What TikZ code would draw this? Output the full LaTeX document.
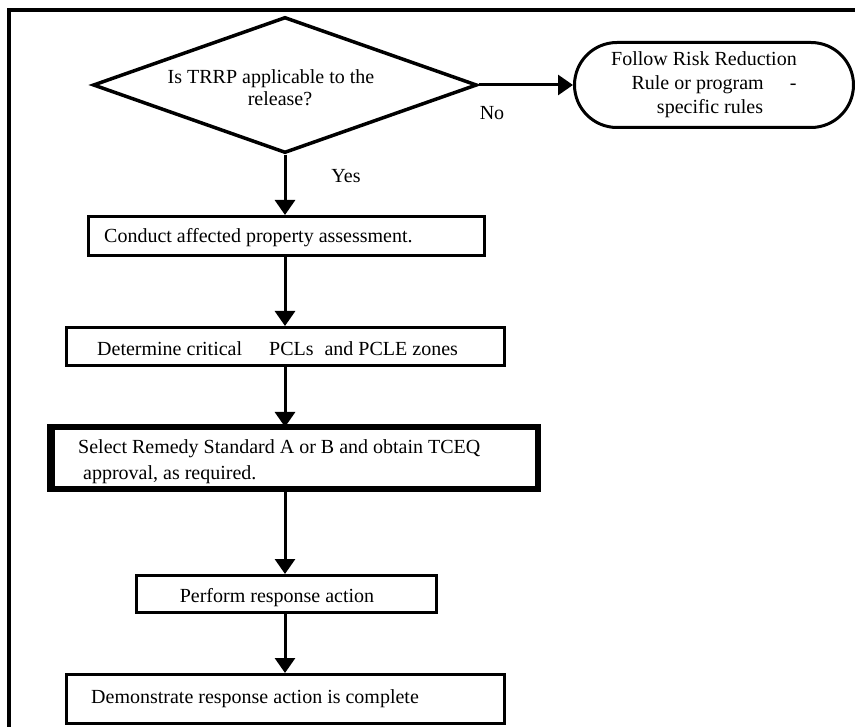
\documentclass[tikz,border=0pt]{standalone}
\usepackage{fontspec}
\setmainfont{Liberation Serif}
\usetikzlibrary{shapes.geometric,shapes.misc,arrows.meta}
\begin{document}
\begin{tikzpicture}[x=1pt,y=-1pt,
  every node/.style={font=\fontsize{20}{24}\selectfont},
  box/.style={draw, rectangle, line width=3pt, inner sep=0pt},
  txt/.style={inner sep=0pt},
  flow/.style={line width=3pt, -{Triangle[width=20pt,length=15pt]}},
]
\useasboundingbox (0,0) rectangle (855,727);

% page frame (top and left rules)
\draw[line width=3.5pt] (9,727) -- (9,10) -- (855,10);

% decision
\node[diamond, draw, line width=3.5pt, minimum width=384pt, minimum height=136pt, inner sep=0pt] (dia) at (285,85) {};
\node[txt, anchor=base] (qa) at (271,84) {Is TRRP applicable to the};
\node[txt, anchor=base] (qb) at (280,106) {release?};

% terminal for the "No" branch
\node[rounded rectangle, draw, line width=3pt, minimum width=279pt, minimum height=85pt,
      inner sep=0pt, align=center] (term) at (714,85)
  {Follow Risk Reduction\hspace*{20pt}\\Rule or program\hspace{1.3em}-\\specific rules\hspace*{8pt}};

% process steps
\node[box, minimum width=396pt, minimum height=39pt] (b1) at (286.5,236) {};
\node[box, minimum width=438pt, minimum height=38pt] (b2) at (285.5,346.5) {};
\node[box, line width=6pt, outer sep=0pt, minimum width=488pt, minimum height=62pt] (b3) at (294,458) {};
\draw[line width=8.5pt] ([xshift=1pt]b3.north west) -- ([xshift=1pt]b3.south west);
\node[box, minimum width=300pt, minimum height=37pt] (b4) at (286.5,594) {};
\node[box, minimum width=438pt, minimum height=49pt] (b5) at (285.5,699) {};

\node[txt, anchor=base west] (t1) at (104,243) {Conduct affected property assessment.};
\node[txt, anchor=base west] (t2) at (97,356) {Determine critical\hspace{1.35em}PCLs\hspace{0.55em}and PCLE zones};
\node[txt, anchor=base west] (t3a) at (78,454) {Select Remedy Standard A or B and obtain TCEQ};
\node[txt, anchor=base west] (t3b) at (83,480) {approval, as required.};
\node[txt, anchor=base] (t4) at (277,602) {Perform response action};
\node[txt, anchor=base west] (t5) at (91,703) {Demonstrate response action is complete};

% branch labels
\node[txt, anchor=base] (no) at (492,120) {No};
\node[txt, anchor=base] (yes) at (346,183) {Yes};

% connectors
\draw[flow] (dia.east) -- (dia.east -| term.west);
\draw[flow] (dia.south) -- (dia.south |- b1.north);
\draw[flow] (dia.south |- b1.south) -- (dia.south |- b2.north);
\draw[flow] (dia.south |- b2.south) -- (dia.south |- b3.north);
\draw[flow] (dia.south |- b3.south) -- (dia.south |- b4.north);
\draw[flow] (dia.south |- b4.south) -- (dia.south |- b5.north);
\end{tikzpicture}
\end{document}
